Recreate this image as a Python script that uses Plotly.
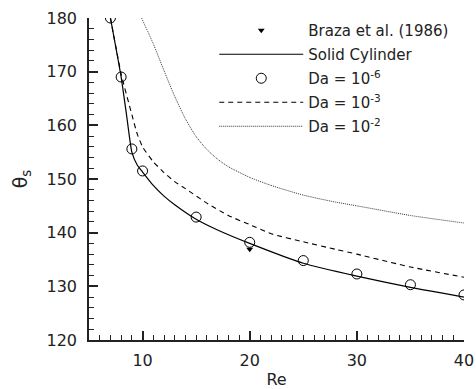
import plotly.graph_objects as go

# Data
braza_re = [20]
braza_theta = [136.9]

solid_re = [7, 8, 8.5, 9, 9.5, 10, 11, 12, 13, 15, 17, 20, 25, 30, 35, 40]
solid_theta = [180, 169, 162, 155, 152.6, 151.3, 148.8, 146.8, 145.2, 142.5, 140.5, 138.0, 134.3, 131.9, 129.8, 128.0]

da6_re = [7, 8, 9, 10, 15, 20, 25, 30, 35, 40]
da6_theta = [180, 169, 155.6, 151.5, 142.9, 138.2, 134.8, 132.3, 130.3, 128.4]

da3_re = [7, 8, 9, 9.5, 10, 11, 12, 13, 14, 16, 18, 20, 22, 25, 28, 30, 35, 40]
da3_theta = [180, 169.6, 162, 158.4, 156, 153.2, 151.2, 149.5, 148.2, 145.5, 143.2, 141.5, 139.8, 138.3, 136.9, 136.0, 133.6, 131.7]

da2_re = [9.9, 11, 12, 13, 14, 15, 16, 17, 18, 20, 22, 25, 28, 30, 35, 40]
da2_theta = [180, 175.2, 170.2, 165.4, 161.2, 157.9, 155.5, 153.7, 152.3, 150.3, 148.8, 147.0, 145.7, 145.0, 143.2, 141.8]

FONT = "DejaVu Sans"
H = 389
T_PLOT = 18      # top of plot area in px
B_MARGIN = 49
AREA = H - B_MARGIN  # drawing area height with zero top margin

fig = go.Figure()
fig.add_trace(go.Scatter(x=braza_re, y=braza_theta, mode="markers", name="Braza et al. (1986)",
                         legendgroup="a",
                         marker=dict(symbol="triangle-down", size=6, color="black")))
fig.add_trace(go.Scatter(x=solid_re, y=solid_theta, mode="lines", name="Solid Cylinder",
                         legendgroup="b",
                         line=dict(color="black", width=1.2, shape="spline", smoothing=0.5)))
fig.add_trace(go.Scatter(x=da6_re, y=da6_theta, mode="markers", name="Da = 10<sup>-6</sup>",
                         legendgroup="c",
                         marker=dict(symbol="circle-open", size=10, color="black", line=dict(width=1))))
fig.add_trace(go.Scatter(x=da3_re, y=da3_theta, mode="lines", name="Da = 10<sup>-3</sup>",
                         legendgroup="d",
                         line=dict(color="black", width=1.1, dash="5px,4px", shape="spline", smoothing=0.5)))
fig.add_trace(go.Scatter(x=da2_re, y=da2_theta, mode="lines", name="Da = 10<sup>-2</sup>",
                         legendgroup="e",
                         line=dict(color="#333333", width=1, dash="1px,1px", shape="spline", smoothing=0.6)))

fig.update_layout(
    width=476, height=H,
    margin=dict(l=89, r=12, t=0, b=B_MARGIN, autoexpand=False),
    plot_bgcolor="white", paper_bgcolor="white",
    font=dict(family=FONT, size=16, color="#222222"),
    showlegend=True,
    legend=dict(x=0.334, y=1 - 14 / AREA, xanchor="left", yanchor="top", bgcolor="rgba(0,0,0,0)",
                font=dict(family=FONT, size=15, color="#222222"), itemwidth=84,
                tracegroupgap=1.5),
    xaxis=dict(range=[5, 40], tickvals=[10, 20, 30, 40], ticks="inside", ticklen=9, tickwidth=1.5,
               showline=True, linecolor="#222222", linewidth=1.5, showgrid=False, zeroline=False,
               ticklabelstandoff=5, automargin=False,
               title=dict(text="Re", standoff=10, font=dict(size=16)),
               minor=dict(ticks="inside", ticklen=5, tickwidth=1, dtick=1, showgrid=False, tickcolor="#222222"),
               tickcolor="#222222"),
    yaxis=dict(range=[120, 180], tickvals=[120, 130, 140, 150, 160, 170, 180], ticks="inside", ticklen=9,
               tickwidth=1.5, showline=True, linecolor="#222222", linewidth=1.5, showgrid=False, zeroline=False,
               ticklabelstandoff=7, automargin=False, domain=[0, 1 - T_PLOT / AREA],
               title=dict(text="θ<sub>s</sub>", standoff=14, font=dict(size=19)),
               minor=dict(ticks="inside", ticklen=5, tickwidth=1, dtick=2, showgrid=False, tickcolor="#222222"),
               tickcolor="#222222"),
)

fig.write_html("out.html")
